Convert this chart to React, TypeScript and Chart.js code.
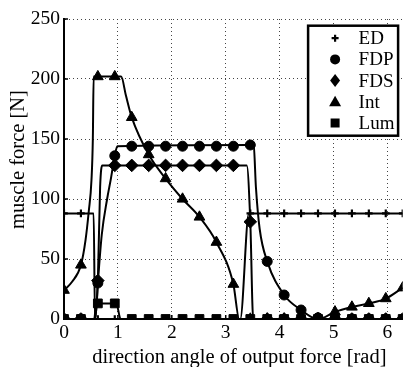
import React, { useEffect, useRef } from 'react';
import { Chart, registerables } from 'chart.js';

Chart.register(...registerables);

// sample angles (markers every pi/10)
const ANGLES = [0, 0.314, 0.628, 0.942, 1.257, 1.571, 1.885, 2.199, 2.513, 2.827, 3.142, 3.456, 3.770, 4.084, 4.398, 4.712, 5.027, 5.341, 5.655, 5.969, 6.283];

// marker values at each sample angle
const ED_MARKS = [88, 88, 0, 0, 0, 0, 0, 0, 0, 0, 0, 88, 88, 88, 88, 88, 88, 88, 88, 88, 88];
const FDP_MARKS = [0, 0, 30, 136, 144, 144, 144, 144, 144, 144, 144, 145, 48, 20, 7.5, 1, 0, 0, 0, 0, 0];
const FDS_MARKS = [0, 0, 32, 128, 128, 128, 128, 128, 128, 128, 128, 81, 0, 0, 0, 0, 0, 0, 0, 0, 0];
const INT_MARKS = [24, 45, 202, 202, 168, 137, 117, 100, 85, 64, 29, 0, 0, 0, 0, 0.5, 6, 10, 13, 17, 26];
const LUM_MARKS = [0, 0, 13, 13, 0, 0, 0, 0, 0, 0, 0, 0, 0, 0, 0, 0, 0, 0, 0, 0, 0];

// continuous curves ([angle, force])
const ED_LINE = [[0, 88], [0.55, 88], [0.575, 0], [3.27, 0], [3.43, 88], [6.283, 88]];
const FDP_LINE = [[0, 0], [0.58, 0], [0.628, 30], [0.70, 70], [0.80, 100], [0.87, 117], [0.942, 136], [0.99, 144], [3.456, 145], [3.52, 144], [3.56, 110], [3.63, 75], [3.77, 48], [4.084, 20], [4.398, 7.5], [4.70, 0], [6.283, 0]];
const FDS_LINE = [[0, 0], [0.575, 0], [0.628, 32], [0.67, 110], [0.71, 128], [3.39, 128], [3.456, 81], [3.51, 0], [6.283, 0]];
const INT_LINE = [[0, 24], [0.15, 31], [0.314, 45], [0.40, 66], [0.46, 90], [0.51, 116], [0.535, 150], [0.55, 202], [1.06, 202], [1.15, 186], [1.257, 168], [1.571, 137], [1.885, 117], [2.199, 100], [2.513, 85], [2.827, 64], [3.142, 29], [3.25, 0], [4.72, 0], [5.027, 6], [5.341, 10], [5.655, 13], [5.969, 17], [6.283, 26]];
const LUM_LINE = [[0, 0], [0.56, 0], [0.60, 13], [0.97, 13], [1.05, 0], [6.283, 0]];

const X_TICKS = [0, 1, 2, 3, 4, 5, 6];
const Y_TICKS = [0, 50, 100, 150, 200, 250];
const LEGEND_LABELS = ['ED', 'FDP', 'FDS', 'Int', 'Lum'];
const LEGEND_STYLES = ['cross', 'circle', 'rectRot', 'triangle', 'rect'];
const X_TITLE = 'direction angle of output force [rad]';
const Y_TITLE = 'muscle force [N]';

const FONT = '"Liberation Serif", "Times New Roman", serif';

const mk = (vals: number[]) => ANGLES.map((a, i) => ({ x: a, y: vals[i] }));
const ln = (pairs: number[][]) => pairs.map(([x, y]) => ({ x, y }));

function drawMarker(ctx: CanvasRenderingContext2D, style: string, x: number, y: number) {
  ctx.save();
  ctx.fillStyle = '#000';
  ctx.strokeStyle = '#000';
  ctx.beginPath();
  if (style === 'cross') {
    ctx.lineWidth = 2.2;
    ctx.moveTo(x - 3.5, y); ctx.lineTo(x + 3.5, y);
    ctx.moveTo(x, y - 3.5); ctx.lineTo(x, y + 3.5);
    ctx.stroke();
  } else if (style === 'circle') {
    ctx.arc(x, y, 5, 0, Math.PI * 2);
    ctx.fill();
  } else if (style === 'rectRot') {
    ctx.moveTo(x, y - 6.5); ctx.lineTo(x + 5, y); ctx.lineTo(x, y + 6.5); ctx.lineTo(x - 5, y); ctx.closePath();
    ctx.fill();
  } else if (style === 'triangle') {
    ctx.moveTo(x, y - 6); ctx.lineTo(x + 6, y + 4.5); ctx.lineTo(x - 6, y + 4.5); ctx.closePath();
    ctx.fill();
  } else {
    ctx.rect(x - 4.5, y - 4.5, 9, 9);
    ctx.fill();
  }
  ctx.restore();
}

const overlay = {
  id: 'overlay',
  afterDraw(chart: any) {
    const ctx: CanvasRenderingContext2D = chart.ctx;
    const { left, right, top, bottom } = chart.chartArea;
    ctx.save();
    // inward ticks
    ctx.strokeStyle = '#000';
    ctx.lineWidth = 1.5;
    chart.scales.y.ticks.forEach((t: any) => {
      const y = chart.scales.y.getPixelForValue(t.value);
      ctx.beginPath(); ctx.moveTo(left, y); ctx.lineTo(left + 4, y); ctx.stroke();
    });
    chart.scales.x.ticks.forEach((t: any) => {
      const x = chart.scales.x.getPixelForValue(t.value);
      ctx.beginPath(); ctx.moveTo(x, bottom); ctx.lineTo(x, bottom - 4); ctx.stroke();
    });
    // axis titles
    ctx.fillStyle = '#000';
    ctx.font = '20.5px ' + FONT;
    ctx.textAlign = 'center';
    ctx.textBaseline = 'alphabetic';
    ctx.fillText(X_TITLE, (left + right) / 2 + 6, bottom + 44);
    ctx.save();
    ctx.translate(24, (top + bottom) / 2 - 9.5);
    ctx.rotate(-Math.PI / 2);
    ctx.fillText(Y_TITLE, 0, 0);
    ctx.restore();
    // legend
    const bx = right - 94.6;
    const by = top + 6.7;
    const bw = 90;
    const bh = 110;
    ctx.fillStyle = '#fff';
    ctx.fillRect(bx, by, bw, bh);
    ctx.lineWidth = 2.5;
    ctx.strokeStyle = '#000';
    ctx.strokeRect(bx, by, bw, bh);
    ctx.font = '19px ' + FONT;
    ctx.textAlign = 'left';
    ctx.textBaseline = 'middle';
    LEGEND_LABELS.forEach((lab, i) => {
      const y = by + 12.5 + i * 21.2;
      drawMarker(ctx, LEGEND_STYLES[i], bx + 27, y);
      ctx.fillStyle = '#000';
      ctx.fillText(lab, bx + 50.5, y + 1);
    });
    ctx.restore();
  },
};

export default function App() {
  const ref = useRef<HTMLCanvasElement>(null);
  useEffect(() => {
    if (!ref.current) return;
    const lineDs = (pairs: number[][]) => ({
      data: ln(pairs),
      showLine: true,
      borderColor: '#000',
      backgroundColor: '#000',
      borderWidth: 2,
      pointRadius: 0,
      cubicInterpolationMode: 'monotone' as const,
      fill: false,
    });
    const markDs = (vals: number[], style: string, r: number, bw = 1) => ({
      data: mk(vals),
      showLine: false,
      pointStyle: style,
      pointRadius: r,
      pointBorderWidth: bw,
      borderColor: '#000',
      backgroundColor: '#000',
    });
    const chart = new Chart(ref.current, {
      type: 'scatter',
      data: {
        datasets: [
          markDs(FDS_MARKS, 'rectRot', 6.3),
          markDs(INT_MARKS, 'triangle', 6.2),
          markDs(FDP_MARKS, 'circle', 5),
          markDs(LUM_MARKS, 'rect', 6.2),
          markDs(ED_MARKS, 'cross', 3.8, 2.2),
          lineDs(FDS_LINE),
          lineDs(INT_LINE),
          lineDs(FDP_LINE),
          lineDs(LUM_LINE),
          lineDs(ED_LINE),
        ] as any,
      },
      options: {
        animation: false,
        responsive: false,
        events: [],
        layout: { padding: { top: 19, right: 3, left: 0, bottom: 0 } },
        plugins: { legend: { display: false }, tooltip: { enabled: false }, title: { display: false } },
        scales: {
          x: {
            type: 'linear',
            min: 0,
            max: 6.2832,
            afterBuildTicks: (s: any) => { s.ticks = X_TICKS.map((v) => ({ value: v })); },
            afterFit: (s: any) => { s.height = 48; },
            ticks: { color: '#000', font: { family: FONT, size: 19.5 }, padding: 2, maxRotation: 0, autoSkip: false },
            grid: { color: '#444', lineWidth: 1, drawTicks: false },
            border: { display: true, color: '#000', width: 2, dash: [1, 3] },
          },
          y: {
            type: 'linear',
            min: 0,
            max: 250,
            afterBuildTicks: (s: any) => { s.ticks = Y_TICKS.map((v) => ({ value: v })); },
            afterFit: (s: any) => { s.width = 64; },
            ticks: { color: '#000', font: { family: FONT, size: 19.5 }, padding: 4 },
            grid: { color: '#444', lineWidth: 1, drawTicks: false },
            border: { display: true, color: '#000', width: 2, dash: [1, 3] },
          },
        },
      },
      plugins: [overlay],
    });
    return () => chart.destroy();
  }, []);
  return (
    <div style={{ position: 'fixed', left: 0, top: 0, width: 410, height: 367, background: '#fff' }}>
      <canvas ref={ref} width={410} height={367} style={{ display: 'block', width: 410, height: 367 }} />
    </div>
  );
}
